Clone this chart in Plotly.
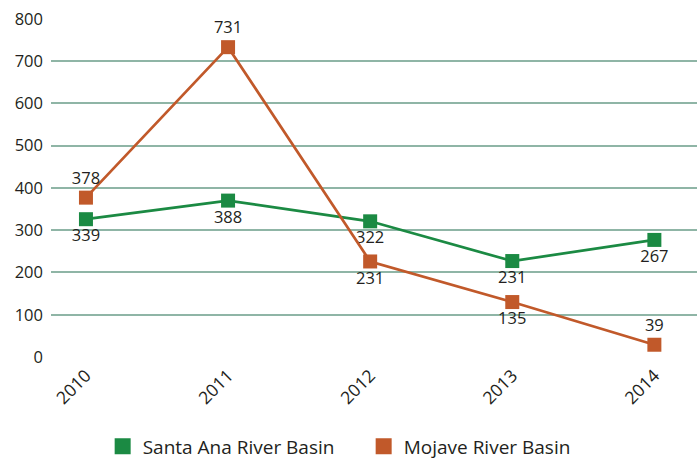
import plotly.graph_objects as go

years = ["2010", "2011", "2012", "2013", "2014"]
santa_ana = [326, 370, 321, 227, 277]
santa_ana_labels = ["339", "388", "322", "231", "267"]
mojave = [377, 733, 226, 130, 29]
mojave_labels = ["378", "731", "231", "135", "39"]
y_ticks = [0, 100, 200, 300, 400, 500, 600, 700, 800]

GREEN = "#1b8a43"
ORANGE = "#c1592a"
FONT = "Open Sans, Noto Sans, sans-serif"
TXT = "#231f20"

x_idx = list(range(len(years)))

fig = go.Figure()
fig.add_trace(go.Scatter(
    x=x_idx, y=santa_ana, mode="lines+markers+text",
    text=santa_ana_labels, textposition="bottom center",
    line=dict(color=GREEN, width=2.7),
    marker=dict(symbol="square", size=14, color=GREEN),
    textfont=dict(size=16.5, color=TXT, family=FONT),
    showlegend=False, hoverinfo="skip", cliponaxis=False))
fig.add_trace(go.Scatter(
    x=x_idx, y=mojave, mode="lines+markers+text",
    text=mojave_labels,
    textposition=["top center", "top center", "bottom center", "bottom center", "top center"],
    line=dict(color=ORANGE, width=2.7),
    marker=dict(symbol="square", size=14, color=ORANGE),
    textfont=dict(size=16.5, color=TXT, family=FONT),
    showlegend=False, hoverinfo="skip", cliponaxis=False))
# legend entries (square swatches only)
fig.add_trace(go.Scatter(x=[None], y=[None], mode="markers", name="Santa Ana River Basin",
                         marker=dict(symbol="square", size=18, color=GREEN)))
fig.add_trace(go.Scatter(x=[None], y=[None], mode="markers", name="Mojave River Basin",
                         marker=dict(symbol="square", size=18, color=ORANGE)))

fig.update_layout(
    width=697, height=459,
    margin=dict(l=51, r=0, t=18, b=102, autoexpand=False),
    paper_bgcolor="white", plot_bgcolor="white",
    font=dict(family=FONT, size=16, color=TXT),
    legend=dict(orientation="h", x=0.484, xanchor="center", y=-0.2636, yanchor="middle",
                font=dict(size=19, color=TXT, family=FONT), itemwidth=30,
                entrywidth=216, entrywidthmode="pixels",
                traceorder="normal", itemclick=False, bgcolor="rgba(0,0,0,0)"),
    xaxis=dict(range=[-0.246, 4.30], tickmode="array", tickvals=x_idx, ticktext=years,
               tickangle=-45, showgrid=False, zeroline=False, showline=False,
               automargin=False, ticks="", ticklabelstandoff=4,
               tickfont=dict(size=17.5, color=TXT, family=FONT)),
    yaxis=dict(range=[0, 802], tickmode="array", tickvals=y_ticks,
               showgrid=True, gridcolor="#8fb5a6", gridwidth=1.6, zeroline=False,
               showline=False, ticks="", ticklabelstandoff=7, automargin=False,
               tickfont=dict(size=16.5, color=TXT, family=FONT)),
)
fig.write_html("out.html", config={"displayModeBar": False},
               post_script="document.body.style.margin='0';document.body.style.overflow='hidden';")
